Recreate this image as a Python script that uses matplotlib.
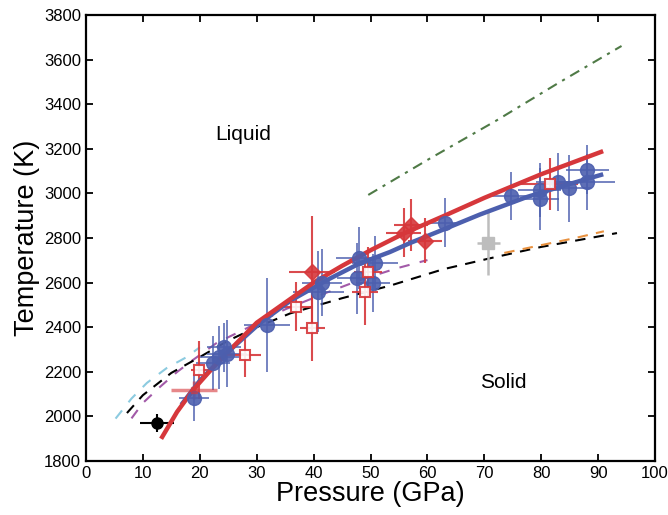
import matplotlib.pyplot as plt
import numpy as np

plt.rcParams['font.family'] = ['Liberation Sans', 'DejaVu Sans']

# fitted melting curves
red_fit_p = [13.4, 16, 18.8, 22, 25.3, 30, 35, 40, 45, 50, 56, 63, 70, 80, 90.5]
red_fit_t = [1908, 2020, 2118, 2210, 2298, 2420, 2510, 2600, 2675, 2745, 2822, 2900, 2980, 3086, 3186]
blue_fit_p = [17, 20, 25, 30.6, 36, 42.4, 48, 53.4, 57, 63, 69.2, 77.5, 84, 90.5]
blue_fit_t = [2060, 2160, 2290, 2419, 2520, 2612, 2685, 2737, 2778, 2840, 2905, 2984, 3035, 3083]

# literature curves
black_p = [7.2, 10, 15, 20, 25, 30, 35.9, 45, 53.4, 62.8, 71, 80, 93.3]
black_t = [2015, 2095, 2195, 2266, 2340, 2400, 2462, 2530, 2586, 2660, 2709, 2760, 2822]
orange_p = [73.5, 80, 86, 91]
orange_t = [2733, 2768, 2800, 2830]
cyan_p = [5.2, 8, 10.7, 14.2, 17.7, 20]
cyan_t = [1990, 2080, 2150, 2217, 2266, 2310]
purple_p = [8, 10, 13, 16, 18.8, 23, 28.3, 35, 42.3, 48, 54.6, 60]
purple_t = [1991, 2060, 2132, 2199, 2253, 2330, 2396, 2480, 2555, 2610, 2664, 2701]
green_p = [49.6, 60, 72, 83, 94.1]
green_t = [2993, 3150, 3325, 3495, 3661]

# blue circles: pressure, temperature, p error, t error
blue_p = [19.0, 22.3, 23.3, 24.2, 24.8, 31.8, 40.8, 41.4, 47.9, 50.8, 47.6, 50.5, 63.1, 74.6, 79.7, 79.7, 83.0, 84.8, 88.1, 88.0]
blue_t = [2084, 2240, 2265, 2310, 2280, 2410, 2560, 2600, 2709, 2687, 2619, 2597, 2869, 2988, 3015, 2974, 3053, 3023, 3105, 3050]
blue_pe = [2.6, 3.0, 3.5, 3.0, 3.5, 4.0, 4.5, 3.5, 4.0, 4.0, 3.5, 3.0, 2.5, 3.3, 3.8, 3.5, 4.0, 4.0, 3.8, 5.0]
blue_te = [105, 120, 140, 110, 150, 210, 180, 150, 140, 120, 160, 130, 110, 108, 120, 140, 130, 150, 110, 125]

# red open squares
sq_p = [19.9, 27.9, 36.9, 39.8, 49.0, 49.6, 81.5]
sq_t = [2208, 2275, 2492, 2398, 2559, 2649, 3042]
sq_pe = [1.5, 2.9, 3.0, 2.2, 2.3, 2.5, 5.0]
sq_te = [130, 97, 110, 150, 150, 110, 115]

# red diamonds
dia_p = [39.7, 55.8, 57.1, 59.6]
dia_t = [2649, 2824, 2858, 2788]
dia_pe = [4.0, 3.0, 3.0, 3.0]
dia_te = [250, 110, 115, 100]

# single points
hidden_red = (19.0, 2120, 4.0, 40)
black_pt = (12.5, 1970, 3.0, 40)
gray_pt = (70.7, 2778, 2.0, 145)

red = '#d6373b'
blue = '#4c5fae'

fig = plt.figure(figsize=(6.68, 5.15), dpi=100)
ax = fig.add_axes([0.1287, 0.1049, 0.852, 0.866])

ax.plot(cyan_p, cyan_t, '--', color='#8ccbe0', lw=1.5, dashes=(5, 5))
ax.plot(purple_p, purple_t, '--', color='#a25aa8', lw=1.5, dashes=(5, 5))
ax.plot(black_p, black_t, '--', color='black', lw=1.5, dashes=(5, 4))
ax.plot(orange_p, orange_t, '--', color='#e8913f', lw=1.5, dashes=(5, 4))
ax.plot(green_p, green_t, '-.', color='#4f7a46', lw=1.5, dashes=(5, 3, 1.5, 3))

ax.errorbar(gray_pt[0], gray_pt[1], xerr=gray_pt[2], yerr=gray_pt[3], fmt='s', color='#bdbdbd',
            ms=8, elinewidth=1.8, capsize=0)

ax.errorbar(blue_p, blue_t, xerr=blue_pe, yerr=blue_te, fmt='o', color=blue, ecolor=blue,
            ms=10, elinewidth=1.2, capsize=0, alpha=0.9)
ax.errorbar(hidden_red[0], hidden_red[1], xerr=hidden_red[2], yerr=hidden_red[3], fmt='s', color=red,
            ecolor=red, ms=4, elinewidth=2.5, capsize=0, alpha=0.6)
ax.errorbar(sq_p, sq_t, xerr=sq_pe, yerr=sq_te, fmt='s', mfc='white', mec=red, mew=1.5,
            ecolor=red, ms=7, elinewidth=1.5, capsize=0, alpha=0.9)
ax.errorbar(dia_p, dia_t, xerr=dia_pe, yerr=dia_te, fmt='D', color=red, ecolor=red,
            ms=8, elinewidth=1.5, capsize=0, alpha=0.9)
ax.errorbar(black_pt[0], black_pt[1], xerr=black_pt[2], yerr=black_pt[3], fmt='o', color='black',
            ms=8, elinewidth=1.5, capsize=0)

ax.plot(blue_fit_p, blue_fit_t, '-', color=blue, lw=3.2)
ax.plot(red_fit_p, red_fit_t, '-', color=red, lw=3.2)

ax.text(27.6, 3266, 'Liquid', fontsize=15, ha='center', va='center')
ax.text(73.3, 2154, 'Solid', fontsize=15, ha='center', va='center')

ax.set_xlim(0, 100)
ax.set_ylim(1800, 3800)
ax.set_xticks(np.arange(0, 101, 10))
ax.set_yticks(np.arange(1800, 3801, 200))
ax.tick_params(direction='in', length=5, width=1.3, labelsize=12, top=True, right=True)
for s in ax.spines.values():
    s.set_linewidth(1.6)
ax.set_xlabel('Pressure (GPa)', fontsize=19.5, labelpad=0)
ax.set_ylabel('Temperature (K)', fontsize=19.5, labelpad=3)

fig.savefig('out.png', dpi=100)
